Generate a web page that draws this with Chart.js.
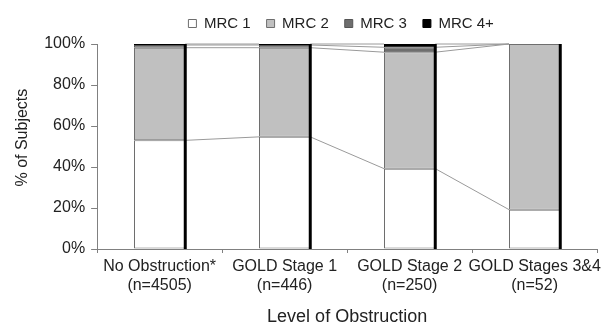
<!DOCTYPE html>
<html>
<head>
<meta charset="utf-8">
<script src="https://cdn.jsdelivr.net/npm/chart.js@4"></script>
<style>
  html, body { margin: 0; padding: 0; background: #fff; }
  #wrap { width: 606px; height: 324px; }
</style>
</head>
<body>
<div id="wrap"><canvas id="myChart" width="606" height="324"></canvas></div>
<script>
// categories and values (% of subjects per MRC grade)
const groups = ['No Obstruction*', 'GOLD Stage 1', 'GOLD Stage 2', 'GOLD Stages 3&4'];
const counts = ['(n=4505)', '(n=446)', '(n=250)', '(n=52)'];
const mrc1 = [53.0, 54.7, 39.2, 19.2];
const mrc2 = [45.2, 43.5, 56.8, 80.8];
const mrc3 = [1.3, 1.3, 2.4, 0];
const mrc4 = [0.5, 0.5, 1.6, 0];
const seriesNames = ['MRC 1', 'MRC 2', 'MRC 3', 'MRC 4+'];
const yTicks = [0, 20, 40, 60, 80, 100];

document.addEventListener('DOMContentLoaded', function() {
    // thin connector lines between bar tops + dark right edge on each bar
    const seriesLines = {
        id: 'seriesLines',
        afterDatasetsDraw(chart) {
            const ctx = chart.ctx;
            const n = chart.data.labels.length;
            ctx.save();
            ctx.strokeStyle = '#9a9a9a';
            ctx.lineWidth = 1;
            chart.data.datasets.forEach((ds, i) => {
                const meta = chart.getDatasetMeta(i);
                for (let j = 0; j < n - 1; j++) {
                    const a = meta.data[j], b = meta.data[j + 1];
                    ctx.beginPath();
                    ctx.moveTo(a.x + a.width / 2, a.y);
                    ctx.lineTo(b.x - b.width / 2, b.y);
                    ctx.stroke();
                }
            });
            const yScale = chart.scales.y;
            const bottom = chart.getDatasetMeta(0);
            const topMeta = chart.getDatasetMeta(chart.data.datasets.length - 1);
            ctx.strokeStyle = '#000';
            ctx.lineWidth = 3;
            for (let j = 0; j < n; j++) {
                const bar = bottom.data[j];
                const x = bar.x + bar.width / 2;
                ctx.beginPath();
                ctx.moveTo(x, topMeta.data[j].y);
                ctx.lineTo(x, yScale.getPixelForValue(0));
                ctx.stroke();
            }
            ctx.restore();
        }
    };

    // a bit more room under the legend, and nudge it left a little
    const legendTweak = {
        id: 'legendTweak',
        beforeInit(chart) {
            const fit = chart.legend.fit;
            chart.legend.fit = function() {
                fit.bind(chart.legend)();
                this.height += 3;
            };
        },
        afterLayout(chart) {
            chart.legend.left -= 6;
            chart.legend.right -= 6;
        }
    };

    const ctx = document.getElementById('myChart').getContext('2d');
    new Chart(ctx, {
        type: 'bar',
        data: {
            labels: groups.map((g, i) => [g, counts[i]]),
            datasets: [
                { label: seriesNames[0], data: mrc1, backgroundColor: '#ffffff', borderColor: '#6e6e6e' },
                { label: seriesNames[1], data: mrc2, backgroundColor: '#c0c0c0', borderColor: '#6e6e6e' },
                { label: seriesNames[2], data: mrc3, backgroundColor: '#6e6e6e', borderColor: '#555555' },
                { label: seriesNames[3], data: mrc4, backgroundColor: '#000000', borderColor: '#000000' }
            ].map(d => Object.assign(d, {
                borderWidth: 1,
                borderSkipped: false,
                categoryPercentage: 1,
                barPercentage: 0.41
            }))
        },
        options: {
            responsive: false,
            animation: false,
            layout: { padding: { left: 4, right: 4, top: 0, bottom: -4 } },
            font: { family: 'Liberation Sans' },
            scales: {
                x: {
                    stacked: true,
                    grid: { drawOnChartArea: false, offset: true, color: '#808080', tickLength: 4 },
                    border: { color: '#808080', width: 1 },
                    ticks: { color: '#222', font: { family: 'Liberation Sans', size: 16, lineHeight: 1.2 },
                             maxRotation: 0, autoSkip: false, padding: 4 },
                    title: { display: true, text: 'Level of Obstruction', color: '#222',
                             font: { family: 'Liberation Sans', size: 18 }, padding: { top: 7, bottom: 0 } }
                },
                y: {
                    stacked: true,
                    min: 0,
                    max: 100,
                    afterBuildTicks: axis => { axis.ticks = yTicks.map(v => ({ value: v })); },
                    grid: { drawOnChartArea: false, color: '#808080', tickLength: 6 },
                    border: { color: '#808080', width: 1 },
                    ticks: { color: '#222', font: { family: 'Liberation Sans', size: 16 }, padding: 6,
                             callback: v => v + '%' },
                    title: { display: true, text: '    % of Subjects', color: '#222',
                             font: { family: 'Liberation Sans', size: 16 }, padding: { top: 9, bottom: 6 } }
                }
            },
            plugins: {
                legend: {
                    position: 'top',
                    fullSize: false,
                    labels: { color: '#222', font: { family: 'Liberation Sans', size: 15 },
                              boxWidth: 8, boxHeight: 8, padding: 16 }
                },
                tooltip: { enabled: false }
            }
        },
        plugins: [seriesLines, legendTweak]
    });
});
</script>
</body>
</html>
